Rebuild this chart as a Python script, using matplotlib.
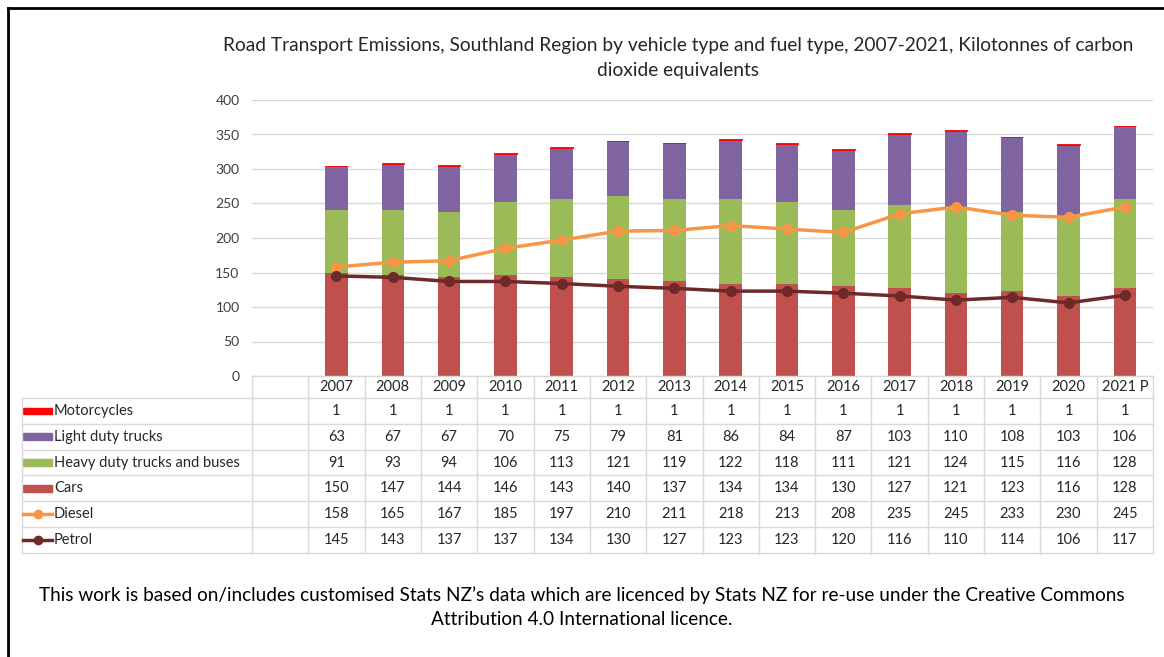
import matplotlib
matplotlib.use("Agg")
import matplotlib.pyplot as plt
from matplotlib.lines import Line2D
from matplotlib.patches import Rectangle

plt.rcParams['font.family'] = ['Lato', 'DejaVu Sans']

years = ['2007', '2008', '2009', '2010', '2011', '2012', '2013', '2014',
         '2015', '2016', '2017', '2018', '2019', '2020', '2021 P']
motorcycles = [1, 1, 1, 1, 1, 1, 1, 1, 1, 1, 1, 1, 1, 1, 1]
light_trucks = [63, 67, 67, 70, 75, 79, 81, 86, 84, 87, 103, 110, 108, 103, 106]
heavy_trucks = [91, 93, 94, 106, 113, 121, 119, 122, 118, 111, 121, 124, 115, 116, 128]
cars = [150, 147, 144, 146, 143, 140, 137, 134, 134, 130, 127, 121, 123, 116, 128]
diesel = [158, 165, 167, 185, 197, 210, 211, 218, 213, 208, 235, 245, 233, 230, 245]
petrol = [145, 143, 137, 137, 134, 130, 127, 123, 123, 120, 116, 110, 114, 106, 117]

C_MOTO = '#FF0000'
C_LIGHT = '#8064A2'
C_HEAVY = '#9BBB59'
C_CARS = '#C0504D'
C_DIESEL = '#F79646'
C_PETROL = '#6E2A28'
GRID = '#D9D9D9'

W, H = 1164, 657
fig = plt.figure(figsize=(W / 100, H / 100), dpi=100)


def px_axes(x0, y0, x1, y1):
    return fig.add_axes([x0 / W, 1 - y1 / H, (x1 - x0) / W, (y1 - y0) / H])


# main chart area, first category slot is left empty like the Excel original
ax = px_axes(252, 100, 1153, 376)
x = list(range(1, len(years) + 1))
bw = 0.4
ax.bar(x, cars, bw, color=C_CARS, zorder=2)
b1 = [c for c in cars]
ax.bar(x, heavy_trucks, bw, bottom=b1, color=C_HEAVY, zorder=2)
b2 = [a + b for a, b in zip(b1, heavy_trucks)]
ax.bar(x, light_trucks, bw, bottom=b2, color=C_LIGHT, zorder=2)
b3 = [a + b for a, b in zip(b2, light_trucks)]
# the 1 kt slice is thinner than a pixel, give it a thin edge so it shows
ax.bar(x, motorcycles, bw, bottom=b3, color=C_MOTO, edgecolor=C_MOTO, lw=0.6, zorder=2)
ax.plot(x, diesel, color=C_DIESEL, lw=2.5, marker='o', ms=7, zorder=3)
ax.plot(x, petrol, color=C_PETROL, lw=2.5, marker='o', ms=7, zorder=3)

ax.set_xlim(-0.5, len(years) + 0.5)
ax.set_ylim(0, 400)
ax.set_yticks(range(0, 401, 50))
ax.tick_params(axis='y', length=0, labelsize=10, colors='#404040', pad=9)
ax.set_xticks([])
ax.grid(axis='y', color=GRID, lw=1, zorder=0)
for s in ax.spines.values():
    s.set_visible(False)

# data table underneath
slot = 901 / 16
left_units = -0.5 - (252 - 22) / slot
tb = px_axes(22, 376, 1153, 553)
tb.set_xlim(left_units, len(years) + 0.5)
tb.set_ylim(6.85, 0)
tb.axis('off')

rows = [
    ('Motorcycles', motorcycles, 'bar', C_MOTO),
    ('Light duty trucks', light_trucks, 'bar', C_LIGHT),
    ('Heavy duty trucks and buses', heavy_trucks, 'bar', C_HEAVY),
    ('Cars', cars, 'bar', C_CARS),
    ('Diesel', diesel, 'line', C_DIESEL),
    ('Petrol', petrol, 'line', C_PETROL),
]

fs = 10.5
hdr = 0.85
lc = dict(color=GRID, lw=1, clip_on=False)
# header row lines
tb.plot([-0.5, len(years) + 0.5], [0, 0], **lc)
for i in range(len(years) + 2):
    tb.plot([i - 0.5, i - 0.5], [0, hdr], **lc)
for i, y in enumerate(years):
    tb.text(i + 1, hdr / 2, y, ha='center', va='center', fontsize=fs, color='#262626')
# body lines
for r in range(len(rows) + 1):
    tb.plot([left_units, len(years) + 0.5], [hdr + r, hdr + r], **lc)
for xv in [left_units] + [i - 0.5 for i in range(len(years) + 2)]:
    tb.plot([xv, xv], [hdr, hdr + len(rows)], **lc)

sw = 29 / slot
for r, (name, vals, kind, col) in enumerate(rows):
    yc = hdr + r + 0.5
    x0 = left_units + 1 / slot
    if kind == 'bar':
        tb.add_patch(Rectangle((x0, yc - 0.13), sw, 0.26, color=col, clip_on=False))
    else:
        tb.add_line(Line2D([x0, x0 + sw], [yc, yc], color=col, lw=2.5, clip_on=False))
        tb.plot([x0 + sw / 2], [yc], marker='o', ms=6, color=col, clip_on=False)
    tb.text(x0 + sw + 2 / slot, yc, name, ha='left', va='center', fontsize=fs, color='#262626')
    for i, v in enumerate(vals):
        tb.text(i + 1, yc, str(v), ha='center', va='center', fontsize=fs, color='#262626')

fig.text(678 / W, 1 - 58 / H,
         'Road Transport Emissions, Southland Region by vehicle type and fuel type, 2007-2021, Kilotonnes of carbon\ndioxide equivalents',
         ha='center', va='center', fontsize=13.8, color='#262626', linespacing=1.55)
fig.text(582 / W, 1 - 607 / H,
         "This work is based on/includes customised Stats NZ\u2019s data which are licenced by Stats NZ for re-use under the Creative Commons\nAttribution 4.0 International licence.",
         ha='center', va='center', fontsize=13.7, color='black', linespacing=1.5)

# frame around the picture (top and left edges only)
fig.add_artist(Line2D([8 / W, 8 / W], [0, 1 - 8 / H], color='black', lw=2))
fig.add_artist(Line2D([8 / W, 1], [1 - 8 / H, 1 - 8 / H], color='black', lw=2))

fig.savefig('out.png', dpi=100)
